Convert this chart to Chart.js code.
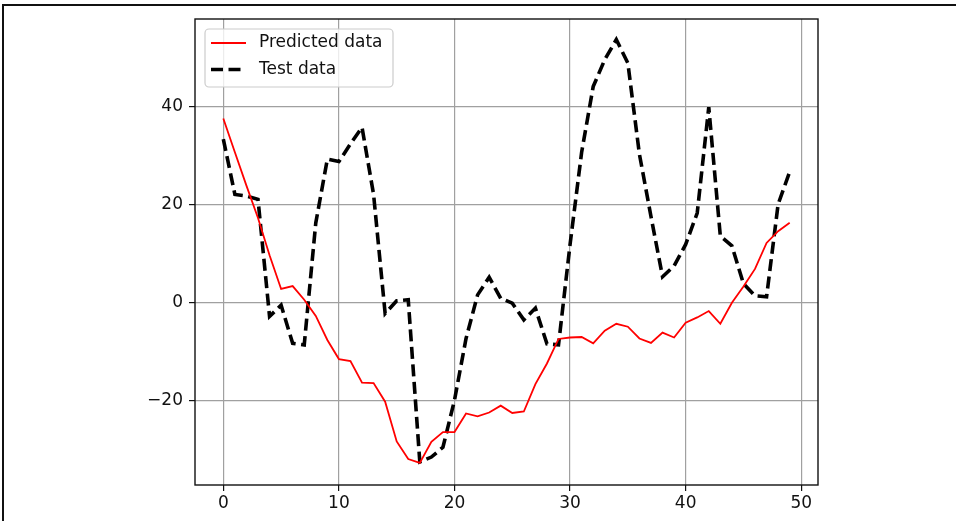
<!DOCTYPE html>
<html>
<head>
<meta charset="utf-8">
<script src="https://cdn.jsdelivr.net/npm/chart.js@4/dist/chart.umd.min.js"></script>
<style>
  html, body { margin: 0; padding: 0; background: #fff; }
  #wrap { position: relative; width: 956px; height: 521px; overflow: hidden; }
  #frame { position: absolute; left: 2px; top: 4px; right: -4px; bottom: -4px;
           border-top: 2px solid #111; border-left: 2px solid #111; pointer-events: none; }
  canvas { position: absolute; left: 0; top: 0; }
</style>
</head>
<body>
<div id="wrap">
  <canvas id="c" width="956" height="521"></canvas>
  <div id="frame"></div>
</div>
<script>
// Sample index along the horizontal axis
const steps = [0,1,2,3,4,5,6,7,8,9,10,11,12,13,14,15,16,17,18,19,20,21,22,23,24,
               25,26,27,28,29,30,31,32,33,34,35,36,37,38,39,40,41,42,43,44,45,46,47,48,49];

// Model output
const predicted = [37.5, 30.6, 23.8, 17.2, 9.6, 2.7, 3.3, 0.5, -2.8, -7.7,
                   -11.6, -12.0, -16.4, -16.5, -20.3, -28.4, -32.0, -32.8, -28.5, -26.5,
                   -26.5, -22.7, -23.3, -22.5, -21.1, -22.6, -22.3, -16.7, -12.5, -7.5,
                   -7.2, -7.1, -8.4, -5.8, -4.4, -5.0, -7.4, -8.3, -6.2, -7.2,
                   -4.2, -3.1, -1.8, -4.4, -0.1, 3.2, 6.8, 12.1, 14.5, 16.2];

// Observed values
const testData = [33.3, 22.0, 21.7, 21.0, -2.9, -0.6, -8.4, -8.7, 16.2, 29.2,
                  28.7, 32.3, 35.7, 22.0, -2.3, 0.3, 0.5, -32.6, -31.6, -29.6,
                  -20.0, -7.4, 1.5, 5.1, 0.8, -0.2, -3.6, -1.2, -8.5, -8.7,
                  11.8, 30.6, 44.0, 49.5, 53.6, 48.8, 30.2, 17.5, 5.2, 7.4,
                  11.8, 18.2, 39.8, 13.5, 11.5, 3.8, 1.3, 1.1, 20.0, 26.6];

const xTicks = [0, 10, 20, 30, 40, 50];
const yTicks = [-20, 0, 20, 40];
const xRange = [-2.45, 51.45];
const yRange = [-37.3, 57.8];

const FONT = 'DejaVu Sans';
const FS = 17;

const fmt = v => (v < 0 ? '\u2212' + Math.abs(v) : String(v));

// Box around the axes and an in-plot legend
const framePlugin = {
  id: 'axesFrame',
  afterDraw(chart) {
    const { ctx, chartArea: a } = chart;
    ctx.save();
    ctx.strokeStyle = '#111';
    ctx.lineWidth = 1.4;
    ctx.strokeRect(a.left, a.top, a.right - a.left, a.bottom - a.top);

    // legend
    const lx = a.left + 10, ly = a.top + 10, lw = 188, lh = 58, r = 4;
    ctx.beginPath();
    ctx.moveTo(lx + r, ly);
    ctx.arcTo(lx + lw, ly, lx + lw, ly + lh, r);
    ctx.arcTo(lx + lw, ly + lh, lx, ly + lh, r);
    ctx.arcTo(lx, ly + lh, lx, ly, r);
    ctx.arcTo(lx, ly, lx + lw, ly, r);
    ctx.closePath();
    ctx.fillStyle = 'rgba(255,255,255,0.8)';
    ctx.fill();
    ctx.strokeStyle = '#cccccc';
    ctx.lineWidth = 1.2;
    ctx.stroke();

    ctx.font = FS + 'px "' + FONT + '"';
    ctx.textBaseline = 'middle';
    ctx.fillStyle = '#111';
    chart.data.datasets.forEach((ds, i) => {
      const y = ly + 14 + i * 26.5;
      ctx.beginPath();
      ctx.setLineDash(ds.borderDash || []);
      ctx.strokeStyle = ds.borderColor;
      ctx.lineWidth = ds.borderWidth;
      ctx.moveTo(lx + 6, y);
      ctx.lineTo(lx + 41, y);
      ctx.stroke();
      ctx.setLineDash([]);
      ctx.fillText(ds.label, lx + 54, y);
    });
    ctx.restore();
  }
};

new Chart(document.getElementById('c'), {
  type: 'line',
  data: {
    datasets: [
      {
        label: 'Predicted data',
        data: steps.map((x, i) => ({ x, y: predicted[i] })),
        borderColor: '#ff0000',
        borderWidth: 1.8,
        pointRadius: 0,
        tension: 0,
        fill: false
      },
      {
        label: 'Test data',
        data: steps.map((x, i) => ({ x, y: testData[i] })),
        borderColor: '#000000',
        borderWidth: 3.6,
        borderDash: [12, 5.5],
        pointRadius: 0,
        tension: 0,
        fill: false
      }
    ]
  },
  options: {
    responsive: false,
    animation: false,
    devicePixelRatio: 1,
    layout: { padding: { left: 0, top: 19, right: 138, bottom: 0 } },
    plugins: { legend: { display: false }, tooltip: { enabled: false } },
    scales: {
      x: {
        type: 'linear',
        min: xRange[0], max: xRange[1],
        afterBuildTicks: s => { s.ticks = xTicks.map(v => ({ value: v })); },
        afterFit: s => { s.height = 36; },
        ticks: { callback: v => fmt(v), color: '#111', padding: 2, maxRotation: 0,
                 font: { family: FONT, size: FS } },
        grid: { color: '#a0a0a0', lineWidth: 1.2, tickColor: '#111', tickLength: 6, drawTicks: true },
        border: { display: false }
      },
      y: {
        type: 'linear',
        min: yRange[0], max: yRange[1],
        afterBuildTicks: s => { s.ticks = yTicks.map(v => ({ value: v })); },
        afterFit: s => { s.width = 195; },
        ticks: { callback: v => fmt(v), color: '#111', padding: 6,
                 font: { family: FONT, size: FS } },
        grid: { color: '#a0a0a0', lineWidth: 1.2, tickColor: '#111', tickLength: 6, drawTicks: true },
        border: { display: false }
      }
    }
  },
  plugins: [framePlugin]
});
</script>
</body>
</html>
